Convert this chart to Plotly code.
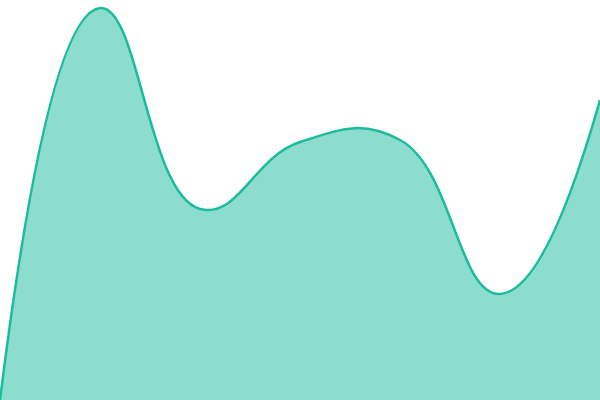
import plotly.graph_objects as go

labels = [0, 1, 2, 3, 4, 5, 6]
values = [0, 392, 191, 258, 260, 106, 300]

fig = go.Figure()
fig.add_trace(go.Scatter(
    x=labels, y=values, mode="lines", fill="tozeroy",
    line=dict(color="#1ABC9C", width=2.5, shape="spline", smoothing=1.3),
    fillcolor="rgba(26,188,156,0.5)", hoverinfo="skip",
))
fig.update_layout(
    width=600, height=400, margin=dict(l=0, r=0, t=0, b=0),
    paper_bgcolor="white", plot_bgcolor="white", showlegend=False,
    xaxis=dict(visible=False, range=[0, 6]),
    yaxis=dict(visible=False, range=[0, 400]),
)
fig.write_html("out.html", config={"displayModeBar": False},
               post_script="document.body.style.margin='0';document.body.style.overflow='hidden';")
